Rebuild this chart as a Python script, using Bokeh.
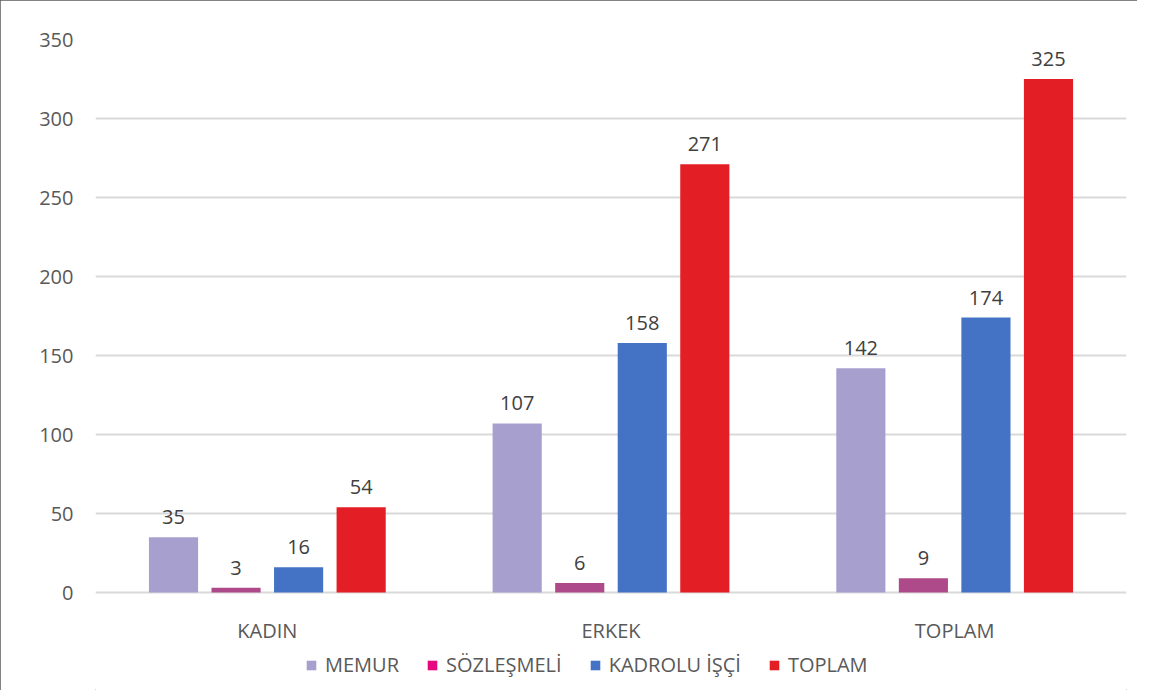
from bokeh.plotting import figure
from bokeh.models import (FactorRange, Range1d, ColumnDataSource, Legend, LegendItem,
                          FixedTicker, InlineStyleSheet)
from bokeh.transform import dodge
from bokeh.core.properties import value
from bokeh.embed import file_html
from bokeh.resources import INLINE

categories = ["KADIN", "ERKEK", "TOPLAM"]
series_names = ["MEMUR", "SÖZLEŞMELİ", "KADROLU İŞÇİ", "TOPLAM"]
memur = [35, 107, 142]
sozlesmeli = [3, 6, 9]
kadrolu = [16, 158, 174]
toplam = [54, 271, 325]
y_ticks = [0, 50, 100, 150, 200, 250, 300, 350]

bar_colors = ["#A79FCE", "#AE4A8A", "#4472C4", "#E31E25"]
legend_colors = ["#A79FCE", "#E6087E", "#4472C4", "#E31E25"]
offsets = [-0.273, -0.091, 0.091, 0.273]
FONT = "Open Sans"

# frame extends below zero so that category labels and legend can sit inside it
p = figure(x_range=FactorRange(*categories), y_range=Range1d(-62.0, 350),
           width=1137, height=690, output_backend="svg", toolbar_location=None,
           x_axis_location=None,
           min_border_left=95, min_border_right=11, min_border_top=39, min_border_bottom=0)
p.outline_line_color = None
p.stylesheets = [InlineStyleSheet(css=":host { outline: 1.5px solid #5a5a5a; outline-offset: -1.5px; }")]

items = []
for name, vals, bc, lc, off in zip(series_names, [memur, sozlesmeli, kadrolu, toplam],
                                   bar_colors, legend_colors, offsets):
    src = ColumnDataSource(dict(cat=categories, v=vals, lbl=[str(x) for x in vals]))
    p.vbar(x=dodge("cat", off, range=p.x_range), top="v", width=0.143, source=src,
           fill_color=bc, line_color=None)
    p.text(x=dodge("cat", off, range=p.x_range), y="v", text="lbl", source=src,
           text_align="center", text_baseline="alphabetic", y_offset=-20,
           text_font=value(FONT), text_font_size="20px", text_color="#404040")
    dsrc = ColumnDataSource(dict(cat=[categories[0]], v=[0]))
    dummy = p.vbar(x="cat", top="v", bottom="v", width=0.001, source=dsrc,
                   fill_color=lc, line_color=None)
    items.append(LegendItem(label=name, renderers=[dummy]))

# category labels
csrc = ColumnDataSource(dict(cat=categories))
p.text(x="cat", y=0, text="cat", source=csrc, text_align="center",
       text_baseline="alphabetic", y_offset=38,
       text_font=value(FONT), text_font_size="20px", text_color="#595959")

legend = Legend(items=items, orientation="horizontal", location=(210, 12),
                glyph_width=12, glyph_height=12, label_standoff=8, spacing=27,
                label_text_font=FONT, label_text_font_size="20px", label_text_color="#595959",
                border_line_color=None, background_fill_alpha=0, padding=0, margin=0)
p.add_layout(legend, "center")

p.yaxis.ticker = FixedTicker(ticks=y_ticks)
p.yaxis.axis_line_color = None
p.yaxis.major_tick_line_color = None
p.yaxis.minor_tick_line_color = None
p.yaxis.major_tick_out = 0
p.yaxis.major_tick_in = 0
p.yaxis.major_label_standoff = 22
p.yaxis.major_label_text_font = FONT
p.yaxis.major_label_text_font_size = "20px"
p.yaxis.major_label_text_color = "#595959"

p.xgrid.grid_line_color = None
p.ygrid.grid_line_color = "#D9D9D9"
p.ygrid.grid_line_width = 2

open("out.html", "w").write(file_html(p, INLINE))
